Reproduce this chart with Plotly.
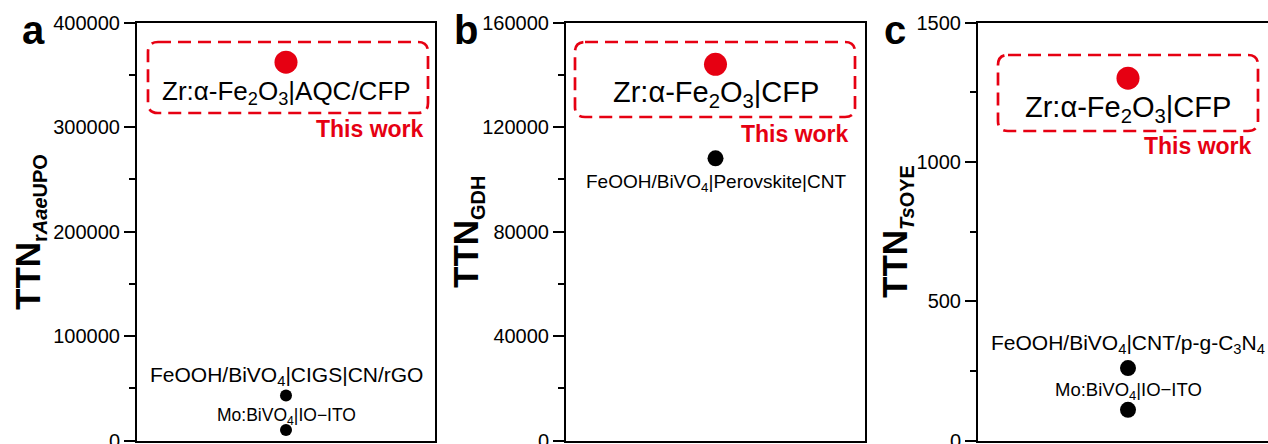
import plotly.graph_objects as go

# ---------------- data ----------------
panel_letters = ["a", "b", "c"]
y_titles = [
    "TTN<sub><span style='font-size:20px'>r<i>Aae</i>UPO</span></sub>",
    "TTN<sub><span style='font-size:20px'>GDH</span></sub>",
    "TTN<sub><span style='font-size:20px'><i>Ts</i>OYE</span></sub>",
]
y_max = [400000, 160000, 1500]
y_dtick = [100000, 40000, 500]

work_labels = [
    "Zr:α-Fe<sub>2</sub>O<sub>3</sub>|AQC/CFP",
    "Zr:α-Fe<sub>2</sub>O<sub>3</sub>|CFP",
    "Zr:α-Fe<sub>2</sub>O<sub>3</sub>|CFP",
]
work_values = [362000, 144000, 1300]

other_labels_a = ["FeOOH/BiVO<sub>4</sub>|CIGS|CN/rGO", "Mo:BiVO<sub>4</sub>|IO−ITO"]
other_values_a = [43000, 10000]
other_labels_b = ["FeOOH/BiVO<sub>4</sub>|Perovskite|CNT"]
other_values_b = [108000]
other_labels_c = ["FeOOH/BiVO<sub>4</sub>|CNT/p-g-C<sub>3</sub>N<sub>4</sub>", "Mo:BiVO<sub>4</sub>|IO−ITO"]
other_values_c = [260, 110]

# ---------------- styling ----------------
W, H = 1268, 444
RED = "#E60012"
FONT = "Liberation Sans, Arial, sans-serif"

def px(x):
    return x / W

def py(y):
    return 1 - y / H

y_dom = [py(440.5), py(22.5)]
x_doms_px = [(137, 435), (566, 865), (978, 1278)]
x_doms = [[px(a), min(px(b), 1.0)] for a, b in x_doms_px]
x_ranges = []
for a, b in x_doms_px:
    full = b - a
    vis = min(b, W) - a
    x_ranges.append([-1, -1 + 2 * vis / full])

black_sizes = [12, 16, 16]
work_font = [26, 29, 29]
other_fonts = [[21, 17.5], [19], [21, 18.5]]
work_shift = [-30, -30, -31]
other_shifts = [[20, 14], [-25], [24, 19]]

fig = go.Figure()

others = [
    (other_labels_a, other_values_a),
    (other_labels_b, other_values_b),
    (other_labels_c, other_values_c),
]

for i in range(3):
    xa = "x" if i == 0 else f"x{i+1}"
    ya = "y" if i == 0 else f"y{i+1}"
    labels, vals = others[i]
    fig.add_trace(go.Scatter(
        x=[0] * len(vals), y=vals, mode="markers",
        marker=dict(color="black", size=black_sizes[i]),
        xaxis=xa, yaxis=ya, showlegend=False, hoverinfo="skip"))
    fig.add_trace(go.Scatter(
        x=[0], y=[work_values[i]], mode="markers",
        marker=dict(color=RED, size=23),
        xaxis=xa, yaxis=ya, showlegend=False, hoverinfo="skip"))

    ax_common = dict(showgrid=False, zeroline=False, automargin=False)
    fig.layout[f"xaxis{'' if i == 0 else i+1}"] = dict(
        domain=x_doms[i], range=x_ranges[i], anchor=ya,
        showticklabels=False, ticks="", showline=True, linewidth=2,
        linecolor="black", mirror=True, **ax_common)
    fig.layout[f"yaxis{'' if i == 0 else i+1}"] = dict(
        domain=y_dom, range=[0, y_max[i]], anchor=xa,
        dtick=y_dtick[i], tick0=0, ticks="outside", ticklen=11, tickwidth=2,
        tickcolor="black", showline=True, linewidth=2, linecolor="black",
        mirror=(i < 2), tickformat="d", ticklabeloverflow="allow",
        tickfont=dict(family=FONT, size=20, color="black"),
        minor=dict(ticks="outside", ticklen=6, tickwidth=2, tickcolor="black",
                   dtick=y_dtick[i] / 2),
        **ax_common)

    # labels
    fig.add_annotation(x=0, y=work_values[i], xref=xa, yref=ya,
                       text=work_labels[i], showarrow=False, yshift=work_shift[i],
                       xanchor="center", yanchor="middle",
                       font=dict(family=FONT, size=work_font[i], color="black"))
    for lab, v, fs, sh in zip(labels, vals, other_fonts[i], other_shifts[i]):
        fig.add_annotation(x=0, y=v, xref=xa, yref=ya, text=lab, showarrow=False,
                           yshift=sh, xanchor="center", yanchor="middle",
                           font=dict(family=FONT, size=fs, color="black"))

# y-axis titles and panel letters
title_x = [29, 467, 896]
letter_x = [33, 466, 895]
for i in range(3):
    fig.add_annotation(x=px(title_x[i]), y=py(232), xref="paper", yref="paper",
                       text="<b>" + y_titles[i] + "</b>", textangle=-90, showarrow=False,
                       xanchor="center", yanchor="middle",
                       font=dict(family=FONT, size=35, color="black"))
    fig.add_annotation(x=px(letter_x[i]), y=py(30), xref="paper", yref="paper",
                       text="<b>" + panel_letters[i] + "</b>", showarrow=False,
                       xanchor="center", yanchor="middle",
                       font=dict(family=FONT, size=40, color="black"))

# dashed rounded boxes + "This work"
boxes = [(148, 42, 428, 113), (575, 42, 855, 117), (998, 55, 1258, 131)]
this_work = [(426, 129), (851, 134), (1254, 146)]
r = 10
for (x0, y0, x1, y1), (tx, ty) in zip(boxes, this_work):
    pts = [
        ("M", x0 + r, y0), ("L", x1 - r, y0), ("Q", x1, y0, x1, y0 + r),
        ("L", x1, y1 - r), ("Q", x1, y1, x1 - r, y1), ("L", x0 + r, y1),
        ("Q", x0, y1, x0, y1 - r), ("L", x0, y0 + r), ("Q", x0, y0, x0 + r, y0),
    ]
    path = ""
    for p in pts:
        cmd = p[0]
        coords = p[1:]
        s = " ".join(f"{px(coords[k]):.5f},{py(coords[k+1]):.5f}" for k in range(0, len(coords), 2))
        path += f"{cmd} {s} "
    path += "Z"
    fig.add_shape(type="path", path=path, xref="paper", yref="paper",
                  line=dict(color=RED, width=2.7, dash="13px,7px"))
    fig.add_annotation(x=px(tx), y=py(ty), xref="paper", yref="paper",
                       text="<b>This work</b>", showarrow=False,
                       xanchor="right", yanchor="middle",
                       font=dict(family=FONT, size=23, color=RED))

fig.update_layout(
    template="none",
    width=W, height=H, margin=dict(l=0, r=0, t=0, b=0, autoexpand=False),
    paper_bgcolor="white", plot_bgcolor="white",
    font=dict(family=FONT, color="black"),
)

fig.write_html(
    "out.html",
    config={"displayModeBar": False},
    post_script="document.body.style.margin='0';document.body.style.overflow='hidden';",
)
